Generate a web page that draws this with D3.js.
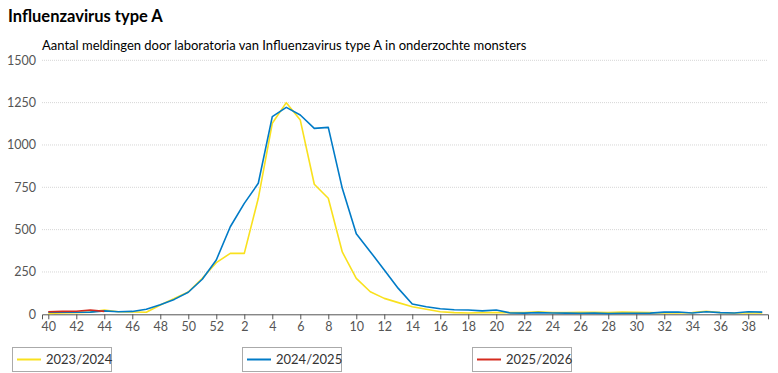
<!DOCTYPE html>
<html>
<head>
<meta charset="utf-8">
<script src="https://cdn.jsdelivr.net/npm/d3@7"></script>
<style>
  body { margin: 0; background: #fff; font-family: Lato, "Noto Sans", sans-serif; }
  svg text { font-family: Lato, "Noto Sans", sans-serif; }
</style>
</head>
<body>
<svg id="chart" width="778" height="373"></svg>
<script>
// week numbers from week 40 to week 39 of the next year
var weeks = [40, 41, 42, 43, 44, 45, 46, 47, 48, 49, 50, 51, 52,
    1, 2, 3, 4, 5, 6, 7, 8, 9, 10, 11, 12, 13, 14, 15, 16, 17, 18, 19, 20,
    21, 22, 23, 24, 25, 26, 27, 28, 29, 30, 31, 32, 33, 34, 35, 36, 37, 38, 39];

var season2324 = [5, 8, 10, 13, 25, 15, 14, 12, 55, 94, 132, 213, 305,
    360, 360, 685, 1128, 1250, 1147, 768, 685, 368, 212, 133, 94, 69, 45, 30, 15, 10, 8, 10, 10,
    10, 10, 15, 10, 10, 12, 12, 10, 13, 12, 10, 8, 8, 10, 18, 10, 8, 8, 8];

var season2425 = [12, 12, 12, 13, 20, 15, 17, 30, 57, 88, 130, 207, 321,
    517, 655, 774, 1167, 1222, 1177, 1098, 1104, 744, 476, 370, 262, 153, 61, 45, 33, 27, 25, 20, 25,
    8, 7, 10, 8, 7, 6, 7, 5, 6, 6, 7, 13, 14, 8, 15, 10, 8, 15, 13];

var season2526 = [15, 17, 18, 25, 17];

var seriesNames = ["2023/2024", "2024/2025", "2025/2026"];
var seriesColors = ["#f9e11e", "#007bc7", "#d52b1e"];
var yTicks = [0, 250, 500, 750, 1000, 1250, 1500];

var svg = d3.select("#chart");

// titles
svg.append("text")
    .attr("x", 8).attr("y", 22)
    .style("font-size", "16.5px").style("font-weight", "bold").style("fill", "#000")
    .text("Influenzavirus type A");

svg.append("text")
    .attr("x", 42).attr("y", 50)
    .style("font-size", "13px").style("fill", "#000")
    .text("Aantal meldingen door laboratoria van Influenzavirus type A in onderzochte monsters");

var xScale = d3.scaleLinear().domain([-0.45, 51.41]).range([42, 768]);
var yScale = d3.scaleLinear().domain([0, 1500]).range([314.3, 60.3]);

// gridlines
svg.append("g")
    .selectAll("line")
    .data(yTicks.filter(d => d > 0))
    .enter()
    .append("line")
    .attr("x1", 42).attr("x2", 768)
    .attr("y1", d => yScale(d)).attr("y2", d => yScale(d))
    .attr("stroke", "#d6d6d6")
    .attr("stroke-dasharray", "1,1");

// y axis labels
var yAxis = svg.append("g")
    .attr("transform", "translate(39,0)")
    .call(d3.axisLeft(yScale).tickValues(yTicks).tickFormat(d3.format("d")).tickSize(0).tickPadding(3));
yAxis.select(".domain").remove();
yAxis.selectAll("text").style("font-size", "12.5px").style("fill", "#555");

// x axis
var xAxis = svg.append("g")
    .attr("transform", "translate(0," + yScale(0) + ")")
    .call(d3.axisBottom(xScale)
        .tickValues(d3.range(0, weeks.length, 2))
        .tickFormat(i => weeks[i])
        .tickSizeOuter(0)
        .tickSize(5)
        .tickPadding(3));
xAxis.select(".domain").attr("stroke", "#555");
xAxis.selectAll(".tick line").attr("stroke", "#555");
xAxis.selectAll("text").style("font-size", "12.5px").style("fill", "#555");

// lines
var line = d3.line()
    .x((d, i) => xScale(i))
    .y(d => yScale(d));

var allSeries = [season2324, season2425, season2526];
allSeries.forEach(function(values, k) {
    svg.append("path")
        .datum(values)
        .attr("fill", "none")
        .attr("stroke", seriesColors[k])
        .attr("stroke-width", 1.6)
        .attr("stroke-linejoin", "round")
        .attr("d", line);
});

// legend
var legendX = [12, 242, 472];
var legend = svg.selectAll(".legend")
    .data(seriesNames)
    .enter()
    .append("g")
    .attr("class", "legend")
    .attr("transform", (d, i) => "translate(" + legendX[i] + ",347)");

legend.append("rect")
    .attr("x", 0.5).attr("y", 0.5)
    .attr("width", 99).attr("height", 24)
    .attr("fill", "#fff")
    .attr("stroke", "#aaa");

legend.append("line")
    .attr("x1", 5).attr("x2", 29)
    .attr("y1", 12.5).attr("y2", 12.5)
    .attr("stroke", (d, i) => seriesColors[i])
    .attr("stroke-width", 2);

legend.append("text")
    .attr("x", 34).attr("y", 17)
    .style("font-size", "13px").style("fill", "#333")
    .text(d => d);
</script>
</body>
</html>
